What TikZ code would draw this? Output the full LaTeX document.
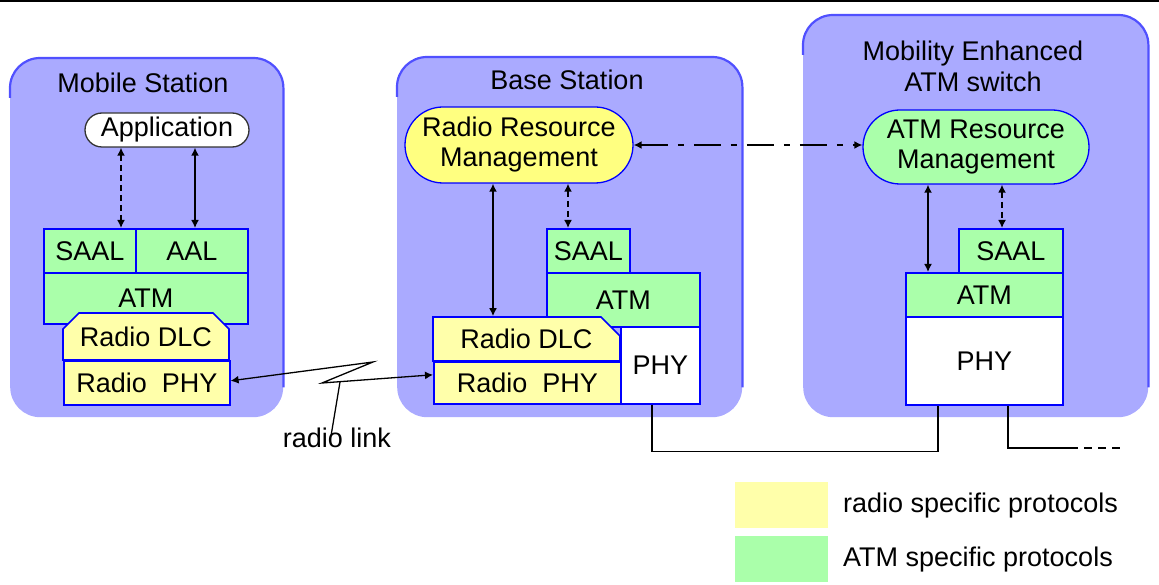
\documentclass[tikz,border=0pt]{standalone}
\usepackage{fontspec}
\setmainfont{Liberation Sans}
\usetikzlibrary{arrows.meta,shapes.misc}

\definecolor{stationfill}{HTML}{AAAAFF}
\definecolor{stationedge}{HTML}{5050FF}
\definecolor{radiofill}{HTML}{FFFFAA}
\definecolor{atmfill}{HTML}{AAFFAA}
\definecolor{rrmfill}{HTML}{FFFF80}
\definecolor{layeredge}{HTML}{0000FF}

\newcommand{\lbl}{\fontsize{27}{30}\selectfont}

\tikzset{
  station/.style={fill=stationfill, rounded corners=30pt, inner sep=0pt, anchor=north west},
  stationrim/.style={draw=stationedge, line width=2.2pt, rounded corners=30pt},
  title/.style={font=\lbl, align=center, anchor=base, inner sep=0pt},
  layer/.style={draw=layeredge, line width=1.6pt, inner sep=0pt, anchor=north west, font=\lbl},
  radiolayer/.style={layer, fill=radiofill},
  atmlayer/.style={layer, fill=atmfill},
  phylayer/.style={layer, fill=white},
  manager/.style={rounded rectangle, draw=layeredge, line width=1.3pt, inner sep=0pt,
                  anchor=center, font=\lbl, align=center},
  link/.style={line width=1.6pt, {Latex[length=8pt,width=8pt]}-{Latex[length=8pt,width=8pt]}},
  signal/.style={link, dash pattern=on 6pt off 4pt},
  control/.style={link, dash pattern=on 27pt off 10pt on 6pt off 10pt},
  wire/.style={line width=1.6pt},
  swatch/.style={inner sep=0pt, anchor=north west, minimum width=93pt, minimum height=46pt},
  legendtext/.style={font=\lbl, anchor=base west, inner sep=0pt}
}

\begin{document}
\begin{tikzpicture}[x=1pt, y=-1pt]
\useasboundingbox (0,0) rectangle (1159,585);

% frame line along the top
\draw[line width=2pt] (0,1) -- (1159,1);

% ---------- station backgrounds ----------
\node[station, minimum width=273pt, minimum height=359pt] (ms) at (10,58) {};
\node[station, minimum width=345pt, minimum height=360pt] (bs) at (397,57) {};
\node[station, minimum width=345pt, minimum height=402pt] (sw) at (803,15) {};
\foreach \s in {ms,bs,sw}
  \draw[stationrim] ([yshift=-40pt]\s.north west) -- (\s.north west) -- (\s.north east) -- ([yshift=30pt]\s.south east);

\node[title] (mstitle) at (143,93) {Mobile Station};
\node[title] (bstitle) at (567,90) {Base Station};
\node[title] (swtitle1) at (973,61) {Mobility Enhanced};
\node[title] (swtitle2) at (973,92) {ATM switch};

% ---------- Mobile Station stack ----------
\node[manager, draw=black!80, fill=white, minimum width=164pt, minimum height=34pt] (app) at (167,130) {Application};
\node[atmlayer, minimum width=92pt, minimum height=44pt] (mssaal) at (43,228) {SAAL};
\node[atmlayer, minimum width=112pt, minimum height=44pt] (msaal) at (135,228) {AAL};
\node[atmlayer, minimum width=204pt, minimum height=51pt] (msatm) at (43,272) {ATM};
\node[radiolayer, anchor=center, chamfered rectangle, chamfered rectangle corners={north west,north east},
      chamfered rectangle xsep=7pt, chamfered rectangle ysep=9pt,
      minimum width=166pt, minimum height=47pt] (msdlc) at (146,336.5) {Radio DLC};
\node[radiolayer, minimum width=166pt, minimum height=44pt] (msphy) at (63,360) {Radio\ \ PHY};

\draw[signal] (app.south -| 121,0) -- (mssaal.north -| 121,0);
\draw[link] (app.south -| 195,0) -- (msaal.north -| 195,0);

% ---------- Base Station stack ----------
\node[manager, fill=rrmfill, minimum width=228pt, minimum height=76pt] (rrm) at (519,145) {Radio Resource\\Management};
\node[atmlayer, minimum width=83pt, minimum height=44pt] (bssaal) at (546,228) {SAAL};
\node[atmlayer, minimum width=153pt, minimum height=54pt] (bsatm) at (546,272) {ATM};
\node[radiolayer, anchor=center, chamfered rectangle, chamfered rectangle corners={north east},
      chamfered rectangle xsep=10pt, chamfered rectangle ysep=9pt,
      minimum width=187pt, minimum height=44pt] (bsdlc) at (526.5,339) {Radio DLC};
\node[radiolayer, minimum width=187pt, minimum height=42pt] (bsrphy) at (433,361) {Radio\ \ PHY};
\node[phylayer, minimum width=79pt, minimum height=77pt] (bsphy) at (620,326) {PHY};

\draw[link] (rrm.south -| 493,0) -- (bsdlc.north -| 493,0);
\draw[signal] (rrm.south -| 568,0) -- (bssaal.north -| 568,0);

% ---------- ATM switch stack ----------
\node[manager, fill=atmfill, minimum width=226pt, minimum height=74pt] (arm) at (976,147) {ATM Resource\\Management};
\node[atmlayer, minimum width=104pt, minimum height=44pt] (swsaal) at (958,228) {SAAL};
\node[atmlayer, minimum width=157pt, minimum height=44pt] (swatm) at (905,272) {ATM};
\node[phylayer, minimum width=157pt, minimum height=88pt] (swphy) at (905,316) {PHY};

\draw[link] (arm.south -| 928,0) -- (swatm.north -| 928,0);
\draw[signal] (arm.south -| 1002,0) -- (swsaal.north -| 1002,0);

% resource management signalling
\draw[control] (rrm.east) -- (arm.west |- rrm.east);

% ---------- radio link ----------
\coordinate (zzup) at (373,362);
\coordinate (zzdown) at (322,383);
\coordinate (zztap) at (340,382);
\coordinate (rlfoot) at (331,436);
\draw[link, line width=1.3pt] ([yshift=2pt]msphy.east) -- (zzup) -- (zzdown) -- ([yshift=8pt]bsrphy.west);
\node[font=\lbl, anchor=base, inner sep=0pt] (rl) at (337,447) {radio link};
\draw[line width=1.3pt] (zztap) -- (rlfoot);

% ---------- wired connections ----------
\draw[wire] (bsphy.south -| 652,0) -- ++(0,47) -| (swphy.south -| 938,0);
\coordinate (wireend) at (1070,448);
\coordinate (wiremore) at (1122,448);
\draw[wire] (swphy.south -| 1008,0) |- (wireend);
\draw[wire, dash pattern=on 8pt off 6pt] (wireend) -- (wiremore);

% ---------- legend ----------
\node[swatch, fill=radiofill] (lradio) at (735,482) {};
\node[swatch, fill=atmfill] (latm) at (735,536) {};
\node[legendtext] (lradiotext) at (843,512) {radio specific protocols};
\node[legendtext] (latmtext) at (843,566) {ATM specific protocols};
\end{tikzpicture}
\end{document}
